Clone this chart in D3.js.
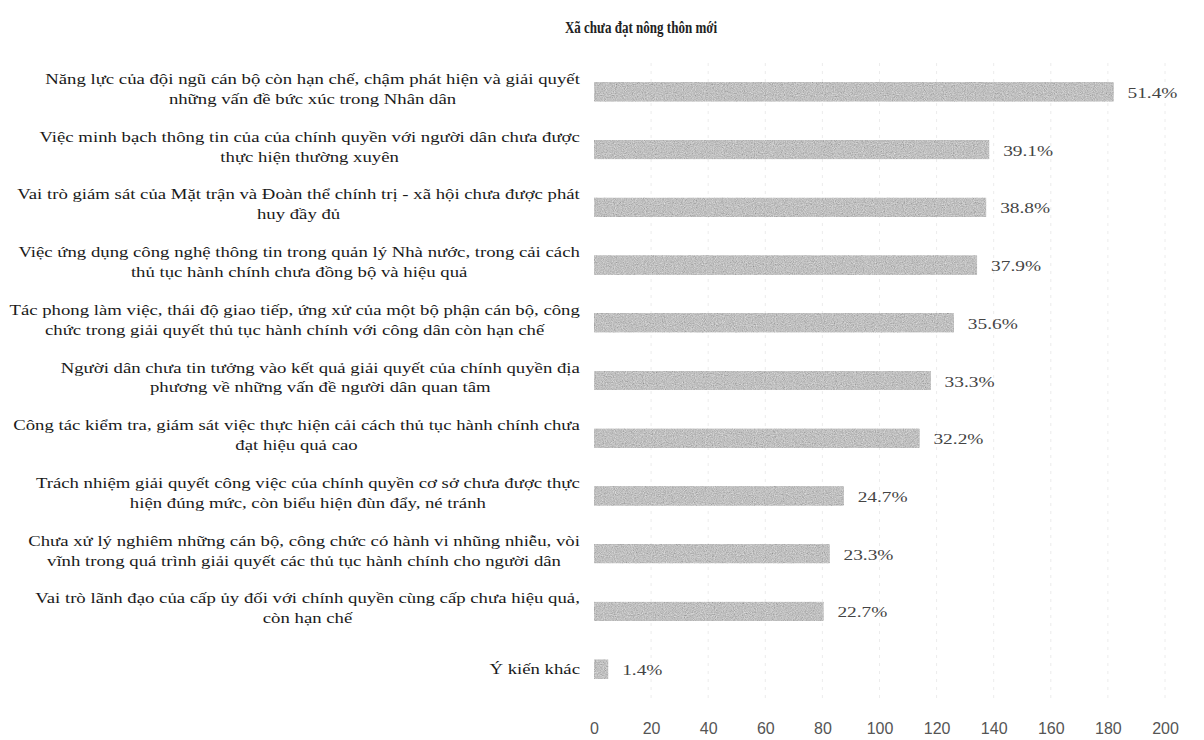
<!DOCTYPE html>
<html>
<head>
<meta charset="utf-8">
<script src="https://cdn.jsdelivr.net/npm/d3@7"></script>
<style>
  html, body { margin: 0; padding: 0; background: #fff; }
  svg { display: block; }
</style>
</head>
<body>
<svg id="chart" width="1204" height="740"></svg>
<script>
// Survey answers (wrapped label lines), shares of respondents in percent
const categories = [
  ["Năng lực của đội ngũ cán bộ còn hạn chế, chậm phát hiện và giải quyết", "những vấn đề bức xúc trong Nhân dân"],
  ["Việc minh bạch thông tin của của chính quyền với người dân chưa được", "thực hiện thường xuyên"],
  ["Vai trò giám sát của Mặt trận và Đoàn thể chính trị - xã hội chưa được phát", "huy đầy đủ"],
  ["Việc ứng dụng công nghệ thông tin trong quản lý Nhà nước, trong cải cách", "thủ tục hành chính chưa đồng bộ và hiệu quả"],
  ["Tác phong làm việc, thái độ giao tiếp, ứng xử của một bộ phận cán bộ, công", "chức trong giải quyết thủ tục hành chính với công dân còn hạn chế"],
  ["Người dân chưa tin tưởng vào kết quả giải quyết của chính quyền địa", "phương về những vấn đề người dân quan tâm"],
  ["Công tác kiểm tra, giám sát việc thực hiện cải cách thủ tục hành chính chưa", "đạt hiệu quả cao"],
  ["Trách nhiệm giải quyết công việc của chính quyền cơ sở chưa được thực", "hiện đúng mức, còn biểu hiện đùn đẩy, né tránh"],
  ["Chưa xử lý nghiêm những cán bộ, công chức có hành vi nhũng nhiễu, vòi", "vĩnh trong quá trình giải quyết các thủ tục hành chính cho người dân"],
  ["Vai trò lãnh đạo của cấp ủy đối với chính quyền cùng cấp chưa hiệu quả,", "còn hạn chế"],
  ["Ý kiến khác"]
];
const percents = [51.4, 39.1, 38.8, 37.9, 35.6, 33.3, 32.2, 24.7, 23.3, 22.7, 1.4];
// number of respondents; bars show answer counts on the 0–200 axis
const respondents = 354;
const xTicks = [0, 20, 40, 60, 80, 100, 120, 140, 160, 180, 200];
const title = "Xã chưa đạt nông thôn mới";

const svg = d3.select("#chart");
const serif = "'Liberation Serif', 'Times New Roman', serif";
const stretch = 1.25; // wide-set serif lettering

// grainy grey fill for the bars
const defs = svg.append("defs");
const f = defs.append("filter").attr("id", "grain")
  .attr("x", 0).attr("y", 0).attr("width", 1).attr("height", 1);
f.append("feTurbulence").attr("type", "fractalNoise").attr("baseFrequency", 0.9)
  .attr("numOctaves", 2).attr("seed", 7).attr("result", "noise");
f.append("feColorMatrix").attr("in", "noise").attr("type", "matrix")
  .attr("values", "0.33 0.33 0.33 0 0  0.33 0.33 0.33 0 0  0.33 0.33 0.33 0 0  0 0 0 0 1")
  .attr("result", "grey");
f.append("feComposite").attr("in", "SourceGraphic").attr("in2", "grey")
  .attr("operator", "arithmetic").attr("k1", 0).attr("k2", 1).attr("k3", 0.9).attr("k4", -0.43)
  .attr("result", "mix");
f.append("feComposite").attr("in", "mix").attr("in2", "SourceGraphic").attr("operator", "in");

const x = d3.scaleLinear().domain([0, 200]).range([594, 1165]);
const y = d3.scalePoint().domain(d3.range(categories.length)).range([63, 698]).padding(0.5);
const barH = 19;

// title (condensed bold serif)
svg.append("text")
  .attr("transform", "translate(641,33) scale(0.79,1)")
  .attr("text-anchor", "middle")
  .style("font-family", serif).style("font-weight", "bold")
  .style("font-size", "16.5px").attr("fill", "#222")
  .text(title);

// faint vertical gridlines
svg.append("g").selectAll("line").data(xTicks.slice(1)).join("line")
  .attr("x1", d => x(d)).attr("x2", d => x(d))
  .attr("y1", 63).attr("y2", 698)
  .attr("stroke", "#ececec").attr("stroke-width", 1)
  .attr("stroke-dasharray", "3,5");

// x axis tick labels
const axis = d3.axisBottom(x).tickValues(xTicks).tickSize(0).tickPadding(0);
const ax = svg.append("g").attr("transform", "translate(0,723)").call(axis);
ax.select(".domain").remove();
ax.selectAll("text")
  .style("font-family", "'Liberation Sans', Arial, sans-serif")
  .style("font-size", "16px").attr("fill", "#555");

// bars
const rows = svg.append("g").selectAll("g").data(percents).join("g");
rows.append("rect")
  .attr("x", x(0))
  .attr("y", (d, i) => y(i) - barH / 2)
  .attr("width", d => x(d / 100 * respondents) - x(0))
  .attr("height", barH)
  .attr("fill", "#bdbdbd")
  .attr("filter", "url(#grain)");

// value labels
rows.append("text")
  .attr("transform", (d, i) => `translate(${x(d / 100 * respondents) + 14},${y(i) + 6}) scale(${stretch},1)`)
  .style("font-family", serif).style("font-size", "15.5px")
  .attr("fill", "#444")
  .text(d => d.toFixed(1) + "%");

// category labels: centred lines, block right-aligned against the axis
const lineH = 20;
const labelRight = 580;
const lg = svg.append("g");
categories.forEach((lines, i) => {
  const t = lg.append("text")
    .style("font-family", serif).style("font-size", "15px")
    .attr("fill", "#1a1a1a");
  const spans = lines.map(s => t.append("tspan").text(s));
  const w = d3.max(spans.map(s => s.node().getComputedTextLength()));
  const cx = labelRight - w * stretch / 2;
  const y0 = y(i) - (lines.length - 1) * lineH / 2 + 5 - (lines.length > 1 ? 3 : 0);
  t.attr("transform", `translate(${cx},${y0}) scale(${stretch},1)`);
  spans.forEach((s, k) => s.attr("x", 0).attr("y", k * lineH).attr("text-anchor", "middle"));
});
</script>
</body>
</html>
